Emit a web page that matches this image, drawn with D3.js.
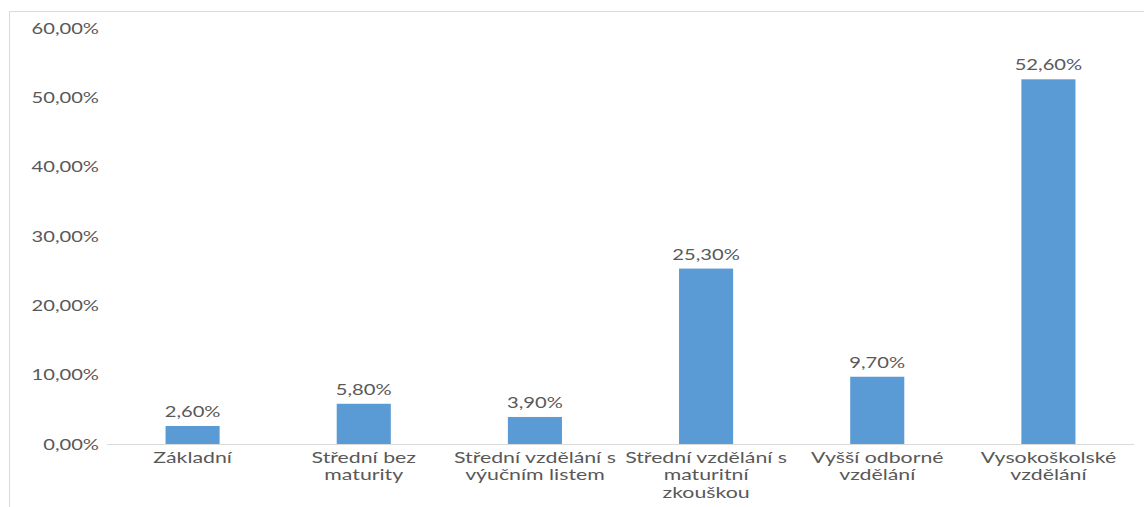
<!DOCTYPE html>
<html><head><meta charset="utf-8">
<script src="https://cdn.jsdelivr.net/npm/d3@7"></script>
<style>body{margin:0;background:#fff}svg{display:block}text{font-family:Lato,"Open Sans",sans-serif;fill:#595959}</style>
</head><body>
<script>
const categories = [["Základní"],["Střední bez","maturity"],["Střední vzdělání s","výučním listem"],["Střední vzdělání s","maturitní","zkouškou"],["Vyšší odborné","vzdělání"],["Vysokoškolské","vzdělání"]];
const values = [2.6, 5.8, 3.9, 25.3, 9.7, 52.6];
const yTicks = [0,10,20,30,40,50,60];

(function(){
const W=1144,H=507, FS=16;
const svg=d3.select("body").append("svg").attr("width",W).attr("height",H);
svg.append("path").attr("d",`M9.5,${H} V11.5 H${W}`).attr("fill","none").attr("stroke","#d9d9d9");
const pl=107,pr=1134,pt=28,pb=444;
const x=d3.scaleBand().domain(d3.range(categories.length)).range([pl,pr]).paddingInner(0.684).paddingOuter(0.342);
const y=d3.scaleLinear().domain([0,60]).range([pb,pt]);
const fmt=v=>v.toFixed(2).replace(".",",")+"%";
function txt(g,xx,yy,s,anchor,sx,fs){
  return g.append("text").attr("transform",`translate(${xx},${yy}) scale(${sx},1)`).attr("text-anchor",anchor).attr("font-size",fs||FS).text(s);
}
yTicks.forEach(t=>txt(svg,99,y(t)+5.5,fmt(t),"end",1.26));
svg.append("line").attr("x1",pl).attr("x2",pr).attr("y1",pb+0.5).attr("y2",pb+0.5).attr("stroke","#d9d9d9");
svg.selectAll("rect.bar").data(values).join("rect").attr("class","bar")
  .attr("x",(d,i)=>x(i)).attr("width",x.bandwidth()).attr("y",d=>y(d)).attr("height",d=>pb-y(d)).attr("fill","#5b9bd5");
values.forEach((v,i)=>txt(svg,x(i)+x.bandwidth()/2,y(v)-9,fmt(v),"middle",1.26));
categories.forEach((lines,i)=>lines.forEach((l,j)=>txt(svg,x(i)+x.bandwidth()/2,462.5+j*17.6,l,"middle",1.42,15)));
})();
</script>
</body></html>
